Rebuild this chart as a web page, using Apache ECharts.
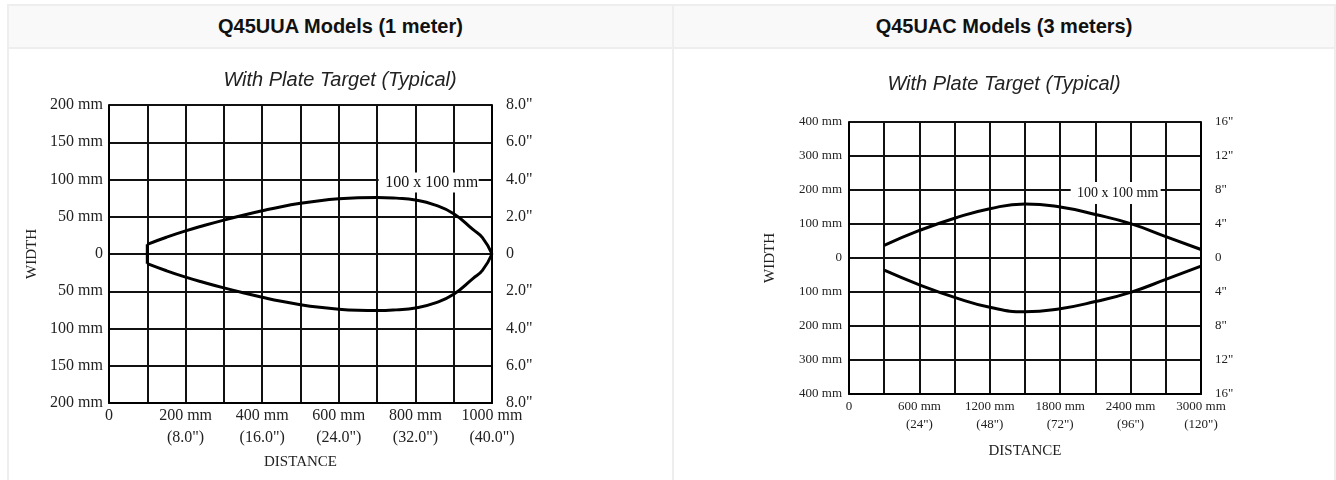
<!DOCTYPE html>
<html>
<head>
<meta charset="utf-8">
<script src="https://cdn.jsdelivr.net/npm/echarts@6/dist/echarts.min.js"></script>
<style>
  body { margin: 0; background: #fff; width: 1336px; height: 480px; overflow: hidden; position: relative; }
  .line { position: absolute; background: #eeeeee; }
  .head { position: absolute; top: 6px; height: 41px; background: #f9f9f9; }
  .htext { position: absolute; top: 6px; height: 41px; line-height: 41px; text-align: center;
           font-family: "Liberation Sans", Arial, sans-serif; font-size: 20px; font-weight: bold; color: #111; }
  .chart { position: absolute; top: 49px; height: 431px; }
</style>
</head>
<body>
<div class="head" style="left:9px;width:663px"></div>
<div class="head" style="left:674px;width:660px"></div>
<div class="line" style="left:7px;top:4px;width:1329px;height:2px"></div>
<div class="line" style="left:7px;top:47px;width:1329px;height:2px"></div>
<div class="line" style="left:7px;top:4px;width:2px;height:476px"></div>
<div class="line" style="left:672px;top:4px;width:2px;height:476px"></div>
<div class="line" style="left:1334px;top:4px;width:2px;height:476px"></div>
<div class="htext" style="left:9px;width:663px">Q45UUA Models (1 meter)</div>
<div class="htext" style="left:674px;width:660px">Q45UAC Models (3 meters)</div>
<div id="left" class="chart" style="left:9px;width:662px"></div>
<div id="right" class="chart" style="left:674px;width:660px"></div>
<script>
// Q45UUA (1 m)
const leftDist = [100, 150, 200, 250, 300, 350, 400, 450, 500, 550, 600, 650, 700, 750, 800, 850, 900, 950, 975, 1000];
const leftUpper = [13, 22.5, 31, 38.5, 45.5, 52, 58, 63.5, 68, 71.5, 74, 75.5, 76, 75, 72.5, 66, 54, 33, 22, 0];
const leftLower = [-13, -22.5, -31, -38.5, -45.5, -52, -58, -63.5, -68, -71.5, -74, -75.5, -76, -75, -72.5, -66, -54, -33, -22, 0];
const leftEdgeDist = [100, 100];
const leftEdgeWidth = [-13, 13];
const leftMmLabels = ['200 mm', '150 mm', '100 mm', '50 mm', '0', '50 mm', '100 mm', '150 mm', '200 mm'];
const leftInLabels = ['8.0"', '6.0"', '4.0"', '2.0"', '0', '2.0"', '4.0"', '6.0"', '8.0"'];
const leftDistTicks = [0, 200, 400, 600, 800, 1000];
const leftDistMm = ['0', '200 mm', '400 mm', '600 mm', '800 mm', '1000 mm'];
const leftDistIn = ['', '(8.0")', '(16.0")', '(24.0")', '(32.0")', '(40.0")'];
const leftNote = [845, 100];

// Q45UAC (3 m)
const rightDist = [300, 600, 900, 1200, 1500, 1800, 2100, 2400, 2700, 3000];
const rightUpper = [37, 81, 117, 145, 159, 150, 128, 101, 63, 25];
const rightLower = [-36, -79, -116, -145, -158, -149, -128, -101, -63, -24];
const rightMmLabels = ['400 mm', '300 mm', '200 mm', '100 mm', '0', '100 mm', '200 mm', '300 mm', '400 mm'];
const rightInLabels = ['16"', '12"', '8"', '4"', '0', '4"', '8"', '12"', '16"'];
const rightDistTicks = [0, 600, 1200, 1800, 2400, 3000];
const rightDistMm = ['0', '600 mm', '1200 mm', '1800 mm', '2400 mm', '3000 mm'];
const rightDistIn = ['', '(24")', '(48")', '(72")', '(96")', '(120")'];
const rightNote = [2290, 200];

const noteText = '100 x 100 mm';
const SERIF = '"Liberation Serif", "Times New Roman", serif';

function pairs(xs, ys) { return xs.map((x, i) => [x, ys[i]]); }

function buildOption(c) {
  const lineStyle = { color: '#000', width: 2 };
  const gridStyle = { color: '#111', width: 2 };
  const yLabel = (labels, margin) => ({
    margin: margin, fontFamily: SERIF, fontSize: c.fs, color: '#222',
    formatter: v => labels[Math.round((v - c.yMin) / c.yStep)]
  });
  const yBase = {
    type: 'value', min: c.yMin, max: -c.yMin, interval: c.yStep,
    axisLine: { show: true, onZero: false, lineStyle: lineStyle },
    axisTick: { show: false }
  };
  const curve = (data, smooth) => ({
    type: 'line', data: data, smooth: smooth, symbol: 'none', z: 3,
    lineStyle: { color: '#000', width: 3 }
  });
  const upper = curve(pairs(c.dist, c.upper), c.smooth);
  upper.markPoint = {
    silent: true, animation: false,
    symbol: 'rect', symbolSize: c.noteBox, symbolOffset: c.noteOffset,
    itemStyle: { color: '#fff' },
    label: {
      show: true, position: 'inside', formatter: noteText, offset: c.textOffset,
      fontFamily: SERIF, fontSize: c.noteFs, color: '#111'
    },
    data: [{ coord: c.note }]
  };
  const series = [upper, curve(pairs(c.dist, c.lower), c.smooth)];
  if (c.edgeDist) series.push(curve(pairs(c.edgeDist, c.edgeWidth), false));
  return {
    animation: false,
    title: {
      text: 'With Plate Target (Typical)', left: 'center', top: c.subTop,
      textStyle: { fontFamily: '"Liberation Sans", Arial, sans-serif', fontStyle: 'italic',
                   fontWeight: 'normal', fontSize: 20, color: '#222' }
    },
    grid: c.grid,
    xAxis: {
      type: 'value', min: 0, max: c.xMax, interval: c.xStep,
      name: 'DISTANCE', nameLocation: 'middle', nameGap: c.xNameGap,
      nameTextStyle: { fontFamily: SERIF, fontSize: 15, color: '#222' },
      axisLine: { show: true, onZero: false, lineStyle: lineStyle },
      axisTick: { show: false },
      axisLabel: {
        margin: c.xMargin, fontFamily: SERIF, fontSize: c.fs, color: '#222', lineHeight: c.lh,
        formatter: v => {
          const i = c.distTicks.indexOf(v);
          if (i < 0) return '';
          return c.distIn[i] ? c.distMm[i] + '\n' + c.distIn[i] : c.distMm[i];
        }
      },
      splitLine: { show: true, lineStyle: gridStyle }
    },
    yAxis: [
      Object.assign({}, yBase, {
        position: 'left', name: 'WIDTH', nameLocation: 'middle', nameGap: c.yNameGap,
        nameRotate: 90, nameTextStyle: { fontFamily: SERIF, fontSize: 15, color: '#222' },
        axisLabel: yLabel(c.mmLabels, c.lMargin),
        splitLine: { show: true, lineStyle: gridStyle }
      }),
      Object.assign({}, yBase, {
        position: 'right',
        axisLabel: yLabel(c.inLabels, c.rMargin),
        splitLine: { show: false }
      })
    ],
    series: series
  };
}

const leftChart = echarts.init(document.getElementById('left'));
leftChart.setOption(buildOption({
  dist: leftDist, upper: leftUpper, lower: leftLower, smooth: 0.5,
  edgeDist: leftEdgeDist, edgeWidth: leftEdgeWidth,
  mmLabels: leftMmLabels, inLabels: leftInLabels,
  distTicks: leftDistTicks, distMm: leftDistMm, distIn: leftDistIn,
  note: leftNote, noteBox: [100, 20], noteOffset: [-4, 3], textOffset: [3, 0], noteFs: 16,
  yMin: -200, yStep: 50, xMax: 1000, xStep: 100,
  grid: { left: 100, right: 179, top: 56, bottom: 77 },
  fs: 16, lh: 22, xMargin: 2, lMargin: 6, rMargin: 14,
  xNameGap: 52, yNameGap: 63, subTop: 16
}));

const rightChart = echarts.init(document.getElementById('right'));
rightChart.setOption(buildOption({
  dist: rightDist, upper: rightUpper, lower: rightLower, smooth: 0.5,
  mmLabels: rightMmLabels, inLabels: rightInLabels,
  distTicks: rightDistTicks, distMm: rightDistMm, distIn: rightDistIn,
  note: rightNote, noteBox: [90, 22], noteOffset: [-2, 3], textOffset: [2, 0], noteFs: 14,
  yMin: -400, yStep: 100, xMax: 3000, xStep: 300,
  grid: { left: 175, right: 133, top: 73, bottom: 86 },
  fs: 13, lh: 18, xMargin: 4, lMargin: 7, rMargin: 14,
  xNameGap: 50, yNameGap: 71, subTop: 20
}));
</script>
</body>
</html>
